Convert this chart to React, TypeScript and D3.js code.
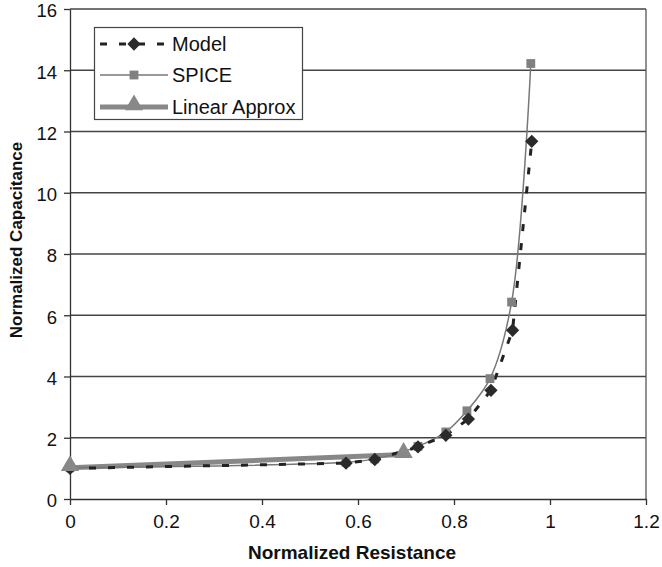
import React, { useEffect, useRef } from "react";
import * as d3 from "d3";

// values
const modelX = [0, 0.575, 0.635, 0.725, 0.783, 0.83, 0.877, 0.922, 0.962];
const modelY = [1.0, 1.17, 1.29, 1.7, 2.08, 2.61, 3.55, 5.51, 11.68];

const spiceX = [0, 0.575, 0.635, 0.725, 0.783, 0.827, 0.875, 0.92, 0.96];
const spiceY = [1.02, 1.2, 1.31, 1.72, 2.19, 2.88, 3.93, 6.43, 14.22];

const linearX = [0, 0.695];
const linearY = [1.02, 1.45];

const xTicks = [0, 0.2, 0.4, 0.6, 0.8, 1, 1.2];
const yTicks = [0, 2, 4, 6, 8, 10, 12, 14, 16];

const seriesNames = ["Model", "SPICE", "Linear Approx"];

const App = () => {
  const ref = useRef<SVGSVGElement>(null);

  useEffect(() => {
    const svg = d3.select(ref.current);
    svg.selectAll("*").remove();

    const W = 662;
    const H = 567;
    const margin = { top: 9, left: 70, right: 16, bottom: 68 };
    const font = "Liberation Sans, Arial, sans-serif";

    const x = d3.scaleLinear().domain([0, 1.2]).range([margin.left, W - margin.right]);
    const y = d3.scaleLinear().domain([0, 16]).range([H - margin.bottom, margin.top]);

    svg.append("rect").attr("width", W).attr("height", H).attr("fill", "#fff");

    // horizontal gridlines
    svg
      .append("g")
      .selectAll("line")
      .data(yTicks.slice(1))
      .join("line")
      .attr("x1", x(0))
      .attr("x2", x(1.2))
      .attr("y1", (d) => y(d))
      .attr("y2", (d) => y(d))
      .attr("stroke", "#444")
      .attr("stroke-width", 1.3);

    // right border
    svg
      .append("line")
      .attr("x1", x(1.2))
      .attr("x2", x(1.2))
      .attr("y1", y(0))
      .attr("y2", y(16))
      .attr("stroke", "#555")
      .attr("stroke-width", 1.3);

    const xAxis = svg
      .append("g")
      .attr("transform", `translate(0,${y(0)})`)
      .call(
        d3
          .axisBottom(x)
          .tickValues(xTicks)
          .tickSize(6)
          .tickSizeOuter(0)
          .tickFormat((d) => String(d))
      );
    xAxis.select(".domain").attr("stroke", "#333").attr("stroke-width", 1.3);
    xAxis.selectAll(".tick line").attr("stroke", "#333").attr("stroke-width", 1.3);
    xAxis
      .selectAll(".tick text")
      .attr("font-family", font)
      .attr("font-size", 19)
      .attr("fill", "#111")
      .attr("y", 12)
      .attr("dy", "0.9em");

    const yAxis = svg
      .append("g")
      .attr("transform", `translate(${x(0)},0)`)
      .call(d3.axisLeft(y).tickValues(yTicks).tickSize(6).tickSizeOuter(0));
    yAxis.select(".domain").attr("stroke", "#333").attr("stroke-width", 1.3);
    yAxis.selectAll(".tick line").attr("stroke", "#333").attr("stroke-width", 1.3);
    yAxis
      .selectAll(".tick text")
      .attr("font-family", font)
      .attr("font-size", 18.5)
      .attr("fill", "#111")
      .attr("x", -13)
      .attr("y", 2);

    const lineOf = (xs: number[], ys: number[], curve: any) =>
      d3
        .line<number>()
        .x((d, i) => x(xs[i]))
        .y((d) => y(d))
        .curve(curve)(ys);

    // linear approx
    svg
      .append("path")
      .attr("d", lineOf(linearX, linearY, d3.curveLinear))
      .attr("fill", "none")
      .attr("stroke", "#888")
      .attr("stroke-width", 5);

    // SPICE
    svg
      .append("path")
      .attr("d", lineOf(spiceX, spiceY, d3.curveCatmullRom.alpha(0.5)))
      .attr("fill", "none")
      .attr("stroke", "#777")
      .attr("stroke-width", 1.5);

    // model
    svg
      .append("path")
      .attr("d", lineOf(modelX, modelY, d3.curveLinear))
      .attr("fill", "none")
      .attr("stroke", "#222")
      .attr("stroke-width", 3)
      .attr("stroke-dasharray", "7,12");

    const square = d3.symbol().type(d3.symbolSquare).size(78);
    const diamond = d3.symbol().type(d3.symbolSquare).size(88); // rotated 45deg
    const triangle = d3.symbol().type(d3.symbolTriangle).size(145);

    svg
      .append("g")
      .selectAll("path")
      .data(spiceY)
      .join("path")
      .attr("d", square())
      .attr("transform", (d, i) => `translate(${x(spiceX[i])},${y(d)})`)
      .attr("fill", "#808080");

    svg
      .append("g")
      .selectAll("path")
      .data(modelY)
      .join("path")
      .attr("d", diamond())
      .attr("transform", (d, i) => `translate(${x(modelX[i])},${y(d)}) rotate(45)`)
      .attr("fill", "#2a2a2a");

    svg
      .append("g")
      .selectAll("path")
      .data(linearY)
      .join("path")
      .attr("d", triangle())
      .attr("transform", (d, i) => `translate(${x(linearX[i])},${y(d) - 2})`)
      .attr("fill", "#888");

    // legend
    const lg = svg.append("g");
    lg.append("rect")
      .attr("x", 94.5)
      .attr("y", 27.5)
      .attr("width", 208)
      .attr("height", 92)
      .attr("fill", "#fff")
      .attr("stroke", "#444")
      .attr("stroke-width", 1.2);

    const rows = [44, 75, 107];
    const sx0 = 100;
    const sx1 = 168;
    const mid = (sx0 + sx1) / 2;

    lg.append("line")
      .attr("x1", sx0)
      .attr("x2", sx1)
      .attr("y1", rows[0])
      .attr("y2", rows[0])
      .attr("stroke", "#222")
      .attr("stroke-width", 3)
      .attr("stroke-dasharray", "7,12");
    lg.append("path")
      .attr("d", diamond())
      .attr("transform", `translate(${mid},${rows[0]}) rotate(45)`)
      .attr("fill", "#2a2a2a");

    lg.append("line")
      .attr("x1", sx0)
      .attr("x2", sx1)
      .attr("y1", rows[1])
      .attr("y2", rows[1])
      .attr("stroke", "#777")
      .attr("stroke-width", 1.5);
    lg.append("path")
      .attr("d", square())
      .attr("transform", `translate(${mid},${rows[1]})`)
      .attr("fill", "#808080");

    lg.append("line")
      .attr("x1", sx0)
      .attr("x2", sx1)
      .attr("y1", rows[2])
      .attr("y2", rows[2])
      .attr("stroke", "#888")
      .attr("stroke-width", 5);
    lg.append("path")
      .attr("d", triangle())
      .attr("transform", `translate(${mid},${rows[2] - 2})`)
      .attr("fill", "#888");

    lg.selectAll("text")
      .data(seriesNames)
      .join("text")
      .attr("x", 172)
      .attr("y", (d, i) => rows[i])
      .attr("dy", "0.36em")
      .attr("font-family", font)
      .attr("font-size", 20)
      .attr("fill", "#111")
      .text((d) => d);

    svg
      .append("text")
      .attr("x", (x(0) + x(1.2)) / 2 - 6)
      .attr("y", 559)
      .attr("text-anchor", "middle")
      .attr("font-family", font)
      .attr("font-size", 19)
      .attr("font-weight", "bold")
      .attr("fill", "#111")
      .text("Normalized Resistance");

    svg
      .append("text")
      .attr("transform", `translate(22,240) rotate(-90)`)
      .attr("text-anchor", "middle")
      .attr("font-family", font)
      .attr("font-size", 17)
      .attr("font-weight", "bold")
      .attr("fill", "#111")
      .text("Normalized Capacitance");
  }, []);

  return (
    <svg
      ref={ref}
      width={662}
      height={567}
      style={{ position: "absolute", left: 0, top: 0 }}
    />
  );
};

export default App;
